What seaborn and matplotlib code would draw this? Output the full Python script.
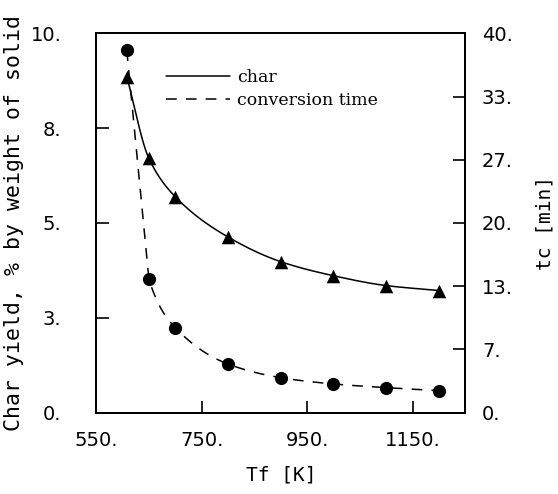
import numpy as np
import pandas as pd
import seaborn as sns
import matplotlib
matplotlib.use("Agg")
import matplotlib.pyplot as plt
from matplotlib.lines import Line2D

# Final temperature [K]
temperature = [608, 650, 700, 800, 900, 1000, 1100, 1200]
# Char yield, % by weight of solid (left axis)
char_yield = [8.86, 6.70, 5.69, 4.63, 3.98, 3.61, 3.35, 3.22]
# Conversion time [min] (right axis)
conv_time = [38.2, 14.06, 8.96, 5.13, 3.69, 3.03, 2.64, 2.32]

x_ticks = [550, 750, 950, 1150]
x_tick_labels = ["550.", "750.", "950.", "1150."]
left_ticks = [0, 2.5, 5, 7.5, 10]
left_tick_labels = ["0.", "3.", "5.", "8.", "10."]
right_ticks = [0, 40 / 6, 80 / 6, 20, 160 / 6, 200 / 6, 40]
right_tick_labels = ["0.", "7.", "13.", "20.", "27.", "33.", "40."]


def monotone_curve(x, y, corners=(), n=400):
    """Shape-preserving cubic (Fritsch-Carlson) through the measured points.
    The end slopes follow the end chords; at the indices in ``corners`` the
    incoming segment keeps the chord slope, so it is drawn straight."""
    x = np.asarray(x, float)
    y = np.asarray(y, float)
    h = np.diff(x)
    d = np.diff(y) / h
    m = np.zeros_like(y)
    for k in range(1, len(x) - 1):
        if d[k - 1] * d[k] > 0:
            w1 = 2 * h[k] + h[k - 1]
            w2 = h[k] + 2 * h[k - 1]
            m[k] = (w1 + w2) / (w1 / d[k - 1] + w2 / d[k])
    m[0] = d[0]
    m[-1] = d[-1]
    m_in = m.copy()
    for k in corners:
        m_in[k] = d[k - 1]
    xs = np.linspace(x[0], x[-1], n)
    idx = np.clip(np.searchsorted(x, xs) - 1, 0, len(x) - 2)
    t = (xs - x[idx]) / h[idx]
    h00 = 2 * t**3 - 3 * t**2 + 1
    h10 = t**3 - 2 * t**2 + t
    h01 = -2 * t**3 + 3 * t**2
    h11 = t**3 - t**2
    ys = (h00 * y[idx] + h10 * h[idx] * m[idx]
          + h01 * y[idx + 1] + h11 * h[idx] * m_in[idx + 1])
    return xs, ys


sns.set_style("white")
plt.rcParams["font.family"] = ["DejaVu Sans"]
plt.rcParams["text.color"] = "black"
plt.rcParams["axes.labelcolor"] = "black"
plt.rcParams["xtick.color"] = "black"
plt.rcParams["ytick.color"] = "black"

fig = plt.figure(figsize=(5.58, 4.94), dpi=100)
ax = fig.add_axes([0.1724, 0.1646, 0.6615, 0.768])
ax2 = ax.twinx()

df = pd.DataFrame({"T": temperature, "char": char_yield, "tc": conv_time})

cx, cy = monotone_curve(temperature, char_yield)
tx, ty = monotone_curve(temperature, conv_time, corners=(1,))

sns.lineplot(x=cx, y=cy, ax=ax, color="black", lw=1.1, estimator=None)
sns.scatterplot(data=df, x="T", y="char", ax=ax, marker="^", s=95,
                color="black", edgecolor="black", linewidth=0, zorder=3)

sns.lineplot(x=tx, y=ty, ax=ax2, color="black", lw=1.1, estimator=None,
             linestyle=(0, (7, 6)))
sns.scatterplot(data=df, x="T", y="tc", ax=ax2, marker="o", s=90,
                color="black", edgecolor="black", linewidth=0, zorder=3)

ax.set_xlim(550, 1250)
ax.set_ylim(0, 10)
ax2.set_ylim(0, 40)

ax.set_xticks(x_ticks)
ax.set_xticklabels(x_tick_labels)
ax.set_yticks(left_ticks)
ax.set_yticklabels(left_tick_labels)
ax2.set_yticks(right_ticks)
ax2.set_yticklabels(right_tick_labels)

for a in (ax, ax2):
    for sp in a.spines.values():
        sp.set_linewidth(1.4)
        sp.set_color("black")

ax.tick_params(axis="x", direction="in", length=9, width=1.2, pad=13,
               labelsize=14, top=False, bottom=True, colors="black")
ax.tick_params(axis="y", direction="in", length=9, width=1.2, pad=25,
               labelsize=14, left=True, right=False, colors="black")
ax2.tick_params(axis="y", direction="in", length=9, width=1.2, pad=12,
                labelsize=14, left=False, right=True, colors="black")

mono = "DejaVu Sans Mono"
ax.set_xlabel("Tf [K]", family=mono, fontsize=14, labelpad=11, color="black")
ax.set_ylabel("Char yield, % by weight of solid", family=mono, fontsize=15.5,
              labelpad=5, color="black")
ax2.set_ylabel("tc [min]", family=mono, fontsize=14, labelpad=16,
               color="black")

handles = [Line2D([], [], color="black", lw=1.1),
           Line2D([], [], color="black", lw=1.1, linestyle=(0, (7, 6)))]
ax.legend(handles, ["char", "conversion time"], loc="upper left",
          bbox_to_anchor=(0.17, 0.925), frameon=False,
          prop={"family": "DejaVu Serif", "size": 12.5},
          handlelength=3.7, handletextpad=0.4, labelspacing=0.35,
          borderaxespad=0)

fig.savefig("out.png", dpi=100)
